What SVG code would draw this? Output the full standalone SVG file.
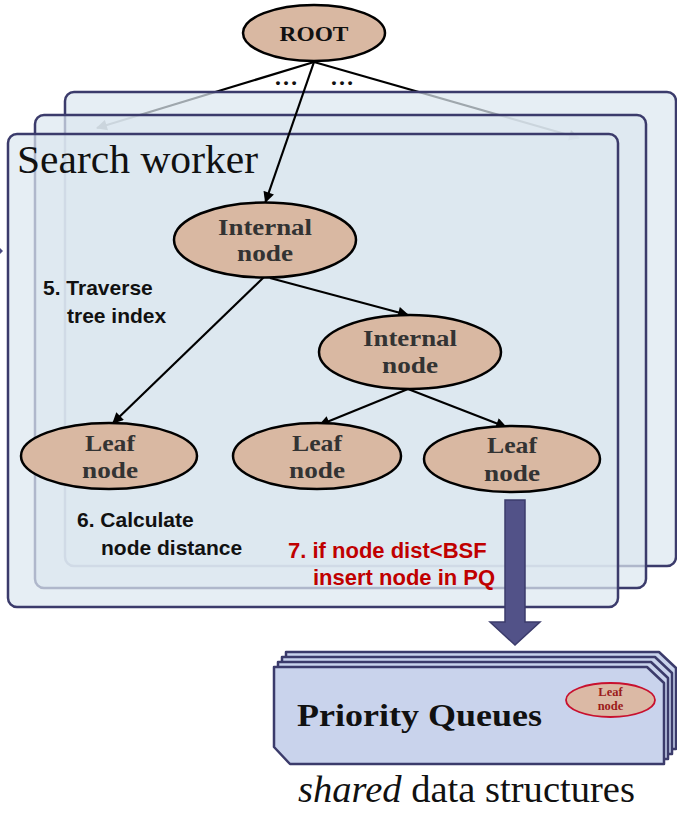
<svg xmlns="http://www.w3.org/2000/svg" width="677" height="817" viewBox="0 0 677 817">
  <style>
    .panel { fill: #dde7f0; fill-opacity: 0.72; stroke: #3b3b6b; stroke-width: 2.5; }
    .node { fill: #d9b8a2; stroke: #000; stroke-width: 2.5; }
    .nlabel { font-family: "Liberation Serif", "Times New Roman", serif; font-weight: bold; font-size: 23px; fill: #333; text-anchor: middle; }
    .step { font-family: "Liberation Sans", Arial, sans-serif; font-weight: bold; font-size: 21px; fill: #111; }
    .red { font-family: "Liberation Sans", Arial, sans-serif; font-weight: bold; font-size: 22px; fill: #c00000; }
    .edge { stroke: #000; stroke-width: 2.2; fill: none; marker-end: url(#tip); }
    .pq { fill: #c9d3ec; stroke: #3b3b6b; stroke-width: 2.5; stroke-linejoin: round; }
  </style>
  <defs>
    <marker id="tip" viewBox="0 0 10 10" refX="9" refY="5" markerWidth="5.5" markerHeight="5" orient="auto" markerUnits="strokeWidth">
      <path d="M0,0 L10,5 L0,10 Z" fill="#000"/>
    </marker>
    <path id="pqshape" d="M0,0 L373,0 L390,16 L390,97 L16,97 L0,80 Z"/>
  </defs>

  <rect width="677" height="817" fill="#fff"/>

  <!-- root fan-out to the other workers, drawn beneath the panels -->
  <g id="fanout">
    <line class="edge" x1="314" y1="62" x2="97" y2="128"/>
    <line class="edge" x1="314" y1="62" x2="579" y2="138"/>
  </g>

  <!-- stacked search worker panels -->
  <g id="workers">
    <rect class="panel" x="65" y="92" width="611" height="474" rx="9"/>
    <rect class="panel" x="35" y="115" width="611" height="473" rx="9"/>
    <rect class="panel" x="8" y="134" width="610" height="473" rx="9"/>
    <text x="17" y="173" font-family="Liberation Serif, 'Times New Roman', serif" font-size="40" fill="#111" textLength="241" lengthAdjust="spacingAndGlyphs">Search worker</text>
  </g>

  <path d="M0,248 L3,251 L0,254 Z" fill="#4a4a80"/>

  <!-- tree edges -->
  <g id="connectors">
    <line class="edge" x1="314" y1="62" x2="265.5" y2="202"/>
    <line class="edge" x1="264" y1="277" x2="113" y2="423"/>
    <line class="edge" x1="270" y1="278" x2="408" y2="315"/>
    <line class="edge" x1="408" y1="389" x2="319.5" y2="425"/>
    <line class="edge" x1="408" y1="389" x2="506" y2="427"/>
  </g>

  <g id="ellipsis" font-family="Liberation Serif, 'Times New Roman', serif" font-weight="bold" font-size="24" fill="#111">
    <text x="274" y="85">…</text>
    <text x="330" y="85">…</text>
  </g>

  <g id="root">
    <ellipse class="node" cx="314" cy="33" rx="71" ry="28"/>
    <text class="nlabel" x="314" y="41" style="font-size:22px; fill:#111" textLength="69" lengthAdjust="spacingAndGlyphs">ROOT</text>
  </g>

  <g id="internal1">
    <ellipse class="node" cx="265" cy="240" rx="91" ry="37.5"/>
    <text class="nlabel" x="265" y="235" textLength="94" lengthAdjust="spacingAndGlyphs">Internal</text>
    <text class="nlabel" x="265" y="261" textLength="56" lengthAdjust="spacingAndGlyphs">node</text>
  </g>

  <g id="internal2">
    <ellipse class="node" cx="410" cy="352" rx="91" ry="37"/>
    <text class="nlabel" x="410" y="346" textLength="94" lengthAdjust="spacingAndGlyphs">Internal</text>
    <text class="nlabel" x="410" y="373" textLength="56" lengthAdjust="spacingAndGlyphs">node</text>
  </g>

  <g id="leaf1">
    <ellipse class="node" cx="109" cy="456" rx="88" ry="33"/>
    <text class="nlabel" x="110" y="451" textLength="50" lengthAdjust="spacingAndGlyphs">Leaf</text>
    <text class="nlabel" x="110" y="478" textLength="56" lengthAdjust="spacingAndGlyphs">node</text>
  </g>

  <g id="leaf2">
    <ellipse class="node" cx="317" cy="456" rx="84" ry="33"/>
    <text class="nlabel" x="317" y="451" textLength="50" lengthAdjust="spacingAndGlyphs">Leaf</text>
    <text class="nlabel" x="317" y="478" textLength="56" lengthAdjust="spacingAndGlyphs">node</text>
  </g>

  <g id="leaf3">
    <ellipse class="node" cx="512" cy="459" rx="88" ry="33"/>
    <text class="nlabel" x="512" y="453" textLength="50" lengthAdjust="spacingAndGlyphs">Leaf</text>
    <text class="nlabel" x="512" y="481" textLength="56" lengthAdjust="spacingAndGlyphs">node</text>
  </g>

  <!-- step annotations -->
  <g id="steps">
    <text class="step" x="43" y="295">5. Traverse</text>
    <text class="step" x="67" y="323">tree index</text>
    <text class="step" x="77" y="527">6. Calculate</text>
    <text class="step" x="101" y="555">node distance</text>
    <text class="red" x="288" y="558">7. if node dist&lt;BSF</text>
    <text class="red" x="313" y="585">insert node in PQ</text>
  </g>

  <!-- insert into priority queue -->
  <g id="insert-arrow">
    <polygon points="505,500 525,500 525,622 540,622 515,645 490,622 505,622" fill="#525288" stroke="#3b3b6b" stroke-width="1.5" stroke-linejoin="miter"/>
  </g>

  <!-- shared priority queues -->
  <g id="priority-queues">
    <use href="#pqshape" class="pq" transform="translate(286,652)"/>
    <use href="#pqshape" class="pq" transform="translate(282,657)"/>
    <use href="#pqshape" class="pq" transform="translate(278,662)"/>
    <use href="#pqshape" class="pq" transform="translate(274,667)"/>
    <text x="297" y="726" font-family="Liberation Serif, 'Times New Roman', serif" font-weight="bold" font-size="31" fill="#111" textLength="245" lengthAdjust="spacingAndGlyphs">Priority Queues</text>
    <g id="pq-leaf">
      <ellipse cx="610.5" cy="700" rx="44.5" ry="17" fill="#dbb9a5" stroke="#c8102e" stroke-width="1.8"/>
      <text x="610.5" y="696" font-family="Liberation Serif, 'Times New Roman', serif" font-weight="bold" font-size="12.5" fill="#9b1b1b" text-anchor="middle">Leaf</text>
      <text x="610.5" y="710" font-family="Liberation Serif, 'Times New Roman', serif" font-weight="bold" font-size="12.5" fill="#9b1b1b" text-anchor="middle">node</text>
    </g>
  </g>

  <text x="298" y="802" font-family="Liberation Serif, 'Times New Roman', serif" font-size="37" fill="#111" textLength="337" lengthAdjust="spacingAndGlyphs"><tspan font-style="italic">shared</tspan> data structures</text>
</svg>
